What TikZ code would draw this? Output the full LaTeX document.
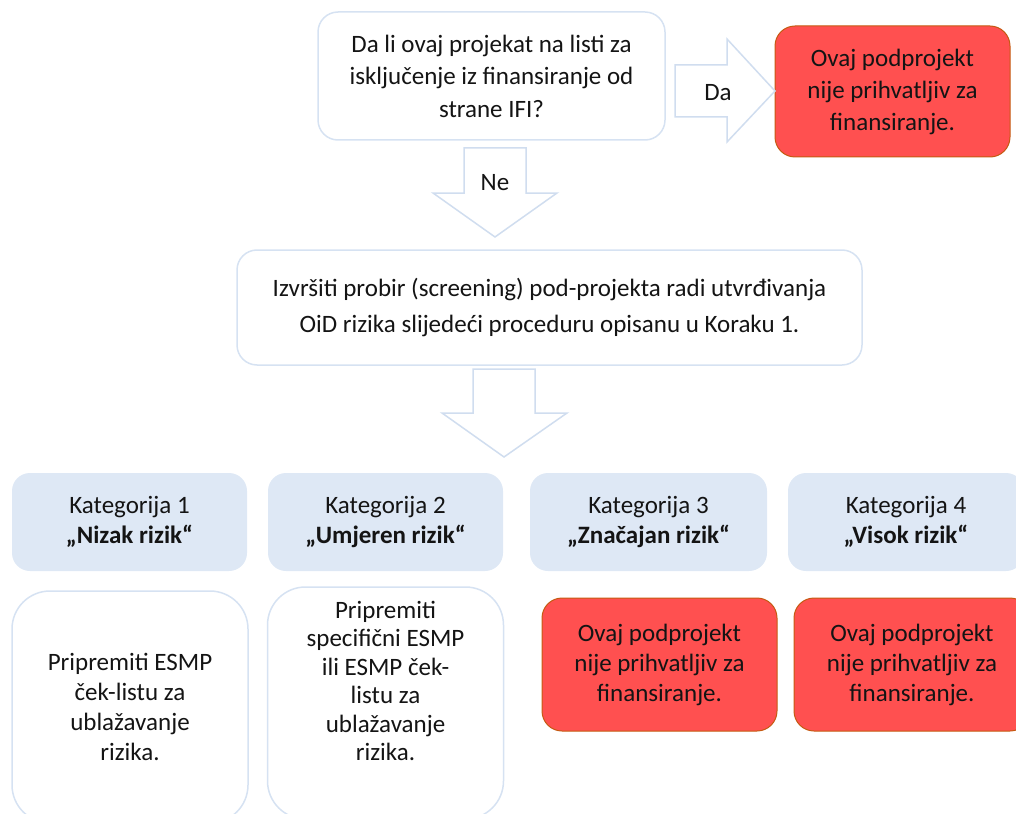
\documentclass[tikz,border=0pt]{standalone}
\usepackage{fontspec}
\setmainfont{Carlito}
\usetikzlibrary{positioning}
\definecolor{boxline}{HTML}{D6E2F2}
\definecolor{katfill}{HTML}{DEE8F5}
\definecolor{redfill}{HTML}{FF5050}
\definecolor{redline}{HTML}{C55A11}
\definecolor{arrowline}{HTML}{D0DDEF}
\definecolor{textcol}{HTML}{141414}
\tikzset{
    txt/.style={align=center, text=textcol, inner sep=0pt, font=\fontsize{25}{30}\selectfont},
    whitebox/.style={txt, draw=boxline, line width=1.5pt, fill=white, rounded corners=20pt},
    redbox/.style={txt, draw=redline, line width=1pt, fill=redfill, rounded corners=20pt},
    katbox/.style={txt, fill=katfill, rounded corners=18pt, minimum height=98pt},
    lowbox/.style={whitebox, rounded corners=38pt, minimum width=236pt, minimum height=232pt},
    blockarrow/.style={draw=arrowline, line width=1.5pt, fill=white}
}
\begin{document}
\begin{tikzpicture}[x=1pt,y=-1pt]
    \useasboundingbox (0,0) rectangle (1016,813);
    \node[whitebox, minimum width=347pt, minimum height=128pt, font=\fontsize{25}{32.5}\selectfont] (q) at (491.5,76)
        {Da li ovaj projekat na listi za\\ isključenje iz finansiranje od\\ strane IFI?};
    \node[redbox, minimum width=235pt, minimum height=131pt, font=\fontsize{25}{32}\selectfont] (no1) at (892.5,91.5)
        {Ovaj podprojekt\\ nije prihvatljiv za\\ finansiranje.};
    \draw[blockarrow] (675,65)--(727,65)--(727,39)--(775,91)--(727,142)--(727,117)--(675,117)--cycle;
    \node[txt] (da) at (718,93) {Da};
    \draw[blockarrow] (464,148)--(526,148)--(526,193)--(557,193)--(495,237)--(433,193)--(464,193)--cycle;
    \node[txt] (ne) at (495,183) {Ne};
    \node[whitebox, minimum width=625pt, minimum height=115pt, font=\fontsize{25}{36}\selectfont] (scr) at (549.5,307.5)
        {Izvršiti probir (screening) pod-projekta radi utvrđivanja\\ OiD rizika slijedeći proceduru opisanu u Koraku 1.};
    \draw[blockarrow] (473,369)--(535,369)--(535,413)--(567,413)--(504,457)--(442,413)--(473,413)--cycle;
    \node[katbox, minimum width=235pt] (kat1) at (129.5,522) {Kategorija 1\\ \textbf{„Nizak rizik“}};
    \node[katbox, minimum width=235pt] (kat2) at (385.5,522) {Kategorija 2\\ \textbf{„Umjeren rizik“}};
    \node[katbox, minimum width=237pt] (kat3) at (648.5,522) {Kategorija 3\\ \textbf{„Značajan rizik“}};
    \node[katbox, minimum width=236pt] (kat4) at (906,522) {Kategorija 4\\ \textbf{„Visok rizik“}};
    \node[lowbox] (low1) at (130,707) {Pripremiti ESMP\\ ček-listu za\\ ublažavanje\\ rizika.};
    \node[lowbox] (low2) at (385.5,703) {};
    \node[txt, font=\fontsize{25}{28.5}\selectfont] (low2txt) at (385.5,681) {Pripremiti\\ specifični ESMP\\ ili ESMP ček-\\ listu za\\ ublažavanje\\ rizika.};
    \node[redbox, minimum width=235pt, minimum height=133pt] (no3) at (659.5,664.5)
        {Ovaj podprojekt\\ nije prihvatljiv za\\ finansiranje.};
    \node[redbox, minimum width=236pt, minimum height=133pt] (no4) at (912,664.5)
        {Ovaj podprojekt\\ nije prihvatljiv za\\ finansiranje.};
\end{tikzpicture}
\end{document}
